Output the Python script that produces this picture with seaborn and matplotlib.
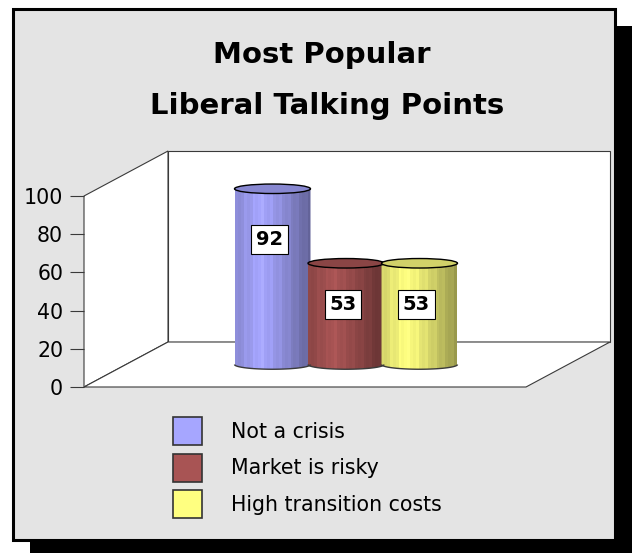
import numpy as np
import matplotlib
matplotlib.use("Agg")
import matplotlib.pyplot as plt
from matplotlib.patches import Rectangle, Polygon, Ellipse, PathPatch, Patch
from matplotlib.path import Path
import matplotlib.colors as mcolors
import seaborn as sns

# ---- data ----
title_lines = ["Most Popular", "Liberal Talking Points"]
series = ["Not a crisis", "Market is risky", "High transition costs"]
values = [92, 53, 53]
colors = ["#A6A6FF", "#A85454", "#FFFF80"]
yticks = [0, 20, 40, 60, 80, 100]

sns.set_theme(style="white")
plt.rcParams["font.family"] = ["DejaVu Sans"]
plt.rcParams["text.color"] = "black"

W, H = 632, 553
fig = plt.figure(figsize=(W / 100, H / 100), dpi=100)
fig.patch.set_facecolor("white")


def fig_box(x0, y0, x1, y1):
    """Axes rectangle from pixel corners (top-left origin)."""
    return [x0 / W, 1 - y1 / H, (x1 - x0) / W, (y1 - y0) / H]


# ---- background: panel, shadow, 3-D frame ----
bg = fig.add_axes([0, 0, 1, 1])
bg.set_xlim(0, W)
bg.set_ylim(H, 0)
bg.axis("off")

bg.add_patch(Rectangle((30, 26), W - 30 + 5, H - 26 + 5, facecolor="black", edgecolor="none"))
bg.add_patch(Rectangle((12.5, 8.5), 602, 531, facecolor="#E4E4E4", edgecolor="black", linewidth=2.2))

# front plane: x 84..526, y 387 (0) .. 196 (100); depth offset (84, -45)
fx0, fx1, fy0, fy1 = 84, 526, 387, 196
dx, dy = 84, -45
frame_kw = dict(facecolor="white", edgecolor="#3a3a3a", linewidth=0.8)
bg.add_patch(Polygon([(fx0 + dx, fy0 + dy), (fx1 + dx, fy0 + dy), (fx1 + dx, fy1 + dy),
                      (fx0 + dx, fy1 + dy)], closed=True, **frame_kw))
bg.add_patch(Polygon([(fx0, fy0), (fx0, fy1), (fx0 + dx, fy1 + dy), (fx0 + dx, fy0 + dy)],
                     closed=True, **frame_kw))
bg.add_patch(Polygon([(fx0, fy0), (fx1, fy0), (fx1 + dx, fy0 + dy), (fx0 + dx, fy0 + dy)],
                     closed=True, **frame_kw))

# title
bg.text(322, 63, title_lines[0], ha="center", va="baseline", fontsize=21, fontweight="bold", color="black")
bg.text(327, 114, title_lines[1], ha="center", va="baseline", fontsize=21, fontweight="bold", color="black")

# ---- value axis on the front edge ----
axf = fig.add_axes(fig_box(fx0, fy1, fx1, fy0))
axf.set_ylim(0, 100)
axf.set_yticks(yticks)
axf.set_xticks([])
axf.patch.set_visible(False)
for s in axf.spines.values():
    s.set_visible(False)
axf.tick_params(axis="y", direction="out", length=10, width=0.8, color="#3a3a3a",
                labelsize=14.8, pad=5, left=True, labelcolor="black")

# ---- cylinders on the mid-depth plane ----
mx0, mx1 = fx0 + dx / 2, fx1 + dx / 2
my0, my1 = fy0 + dy / 2, fy1 + dy / 2
px_per_val = (my0 - my1) / 100.0
ymin = -8.0  # room below zero for the rounded cylinder bases
ax = fig.add_axes(fig_box(mx0, my1, mx1, my0 - ymin * px_per_val))
unit_px = 73.5
center_px = 346
bar_width = 76 / unit_px
xlim = (1 - (center_px - mx0) / unit_px, 1 + (mx1 - center_px) / unit_px)

sns.barplot(x=series, y=values, hue=series, palette=colors, saturation=1,
            width=bar_width, legend=False, ax=ax)
ax.axis("off")

ell_h = 9.5 / px_per_val  # ellipse height in value units


def shade_profile(n):
    t = np.linspace(0, 1, n)
    left, peak, right, tp = 0.82, 1.0, 0.60, 0.33
    f = np.where(t < tp, left + (peak - left) * (t / tp),
                 peak - (peak - right) * ((t - tp) / (1 - tp)) ** 1.1)
    return f


bars = list(ax.patches)
for patch, val, col in zip(bars, values, colors):
    x = patch.get_x()
    w = patch.get_width()
    h = patch.get_height()
    patch.set_visible(False)
    base = np.array(mcolors.to_rgb(col))
    ncol = 26
    f = shade_profile(ncol)
    band = np.ones(ncol)
    band[::3] = 1.05
    img = np.clip(base[None, None, :] * (f * band)[None, :, None], 0, 1)

    # body outline: straight sides plus lower half of the base ellipse
    theta = np.linspace(np.pi, 2 * np.pi, 40)
    cx = x + w / 2
    bottom = [(cx + (w / 2) * np.cos(a), (ell_h / 2) * np.sin(a)) for a in theta]
    verts = [(x, h)] + bottom + [(x + w, h), (x, h)]
    codes = [Path.MOVETO] + [Path.LINETO] * (len(verts) - 2) + [Path.CLOSEPOLY]
    body = PathPatch(Path(verts, codes), facecolor="none", edgecolor="none")
    ax.add_patch(body)
    im = ax.imshow(img, extent=[x, x + w, -ell_h / 2, h], aspect="auto",
                   interpolation="nearest", zorder=2)
    im.set_clip_path(body)
    # base rim
    ax.add_patch(PathPatch(Path(bottom), fill=False, edgecolor="#3a3a3a",
                           linewidth=1.0, zorder=3))
    # top cap
    ax.add_patch(Ellipse((cx, h), w, ell_h, facecolor=tuple(base * 0.82), edgecolor="black",
                         linewidth=1.0, clip_on=False, zorder=3))

# value labels
for patch, val in zip(bars, values):
    cx = patch.get_x() + patch.get_width() / 2 - 3 / unit_px
    ax.text(cx, 0.872 * val - 14.8, f"{val}", ha="center", va="center",
            fontsize=14, fontweight="bold", color="black", zorder=5,
            bbox=dict(boxstyle="square,pad=0.25", facecolor="white", edgecolor="black", linewidth=0.8))

ax.set_xlim(*xlim)
ax.set_ylim(ymin, 100)

# ---- legend ----
handles = [Patch(facecolor=c, edgecolor="#333333", linewidth=1.2) for c in colors]
leg = fig.legend(handles, series, loc="upper left", bbox_to_anchor=(173 / W, 1 - 417 / H),
                 bbox_transform=fig.transFigure, frameon=False, fontsize=14.8,
                 handlelength=1.41, handleheight=1.72, handletextpad=1.4, labelspacing=0.42,
                 borderpad=0, borderaxespad=0, labelcolor="black")

fig.savefig("out.png", dpi=100)
